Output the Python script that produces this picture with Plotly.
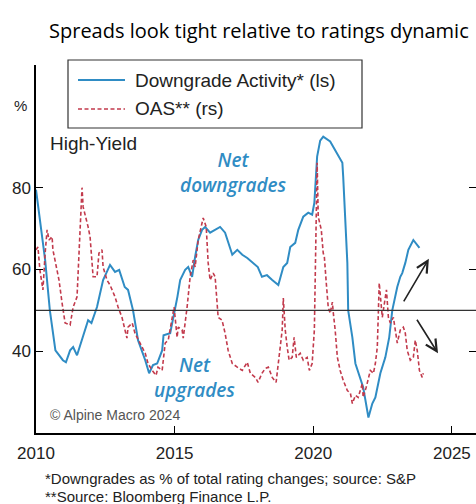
import plotly.graph_objects as go

# Downgrade activity: downgrades as % of total rating changes (left scale)
downgrade_dates = [
    2010.0, 2010.14, 2010.33, 2010.5, 2010.7, 2010.97, 2011.08, 2011.23, 2011.34, 2011.48,
    2011.66, 2011.88, 2012.0, 2012.2, 2012.42, 2012.67, 2012.85, 2013.0, 2013.2, 2013.32,
    2013.5, 2013.68, 2013.94, 2014.08, 2014.22, 2014.37, 2014.55, 2014.6, 2014.84, 2015.0,
    2015.1, 2015.2, 2015.38, 2015.49, 2015.63, 2015.74, 2015.85, 2015.99, 2016.1, 2016.28,
    2016.46, 2016.64, 2016.82, 2017.0, 2017.08, 2017.26, 2017.44, 2017.62, 2017.84, 2018.0,
    2018.15, 2018.33, 2018.52, 2018.74, 2018.92, 2019.06, 2019.17, 2019.35, 2019.46, 2019.64,
    2019.82, 2019.96, 2020.04, 2020.14, 2020.25, 2020.36, 2020.61, 2020.79, 2020.9, 2021.05,
    2021.08, 2021.15, 2021.23, 2021.26, 2021.41, 2021.52, 2021.7, 2021.8, 2021.99, 2022.13,
    2022.24, 2022.42, 2022.6, 2022.74, 2022.85, 2023.03, 2023.14, 2023.21, 2023.32, 2023.43,
    2023.61, 2023.75, 2023.83,
]
downgrade_pct = [
    79.5, 72.1, 62.3, 50.0, 40.2, 37.8, 37.3, 40.2, 41.0, 39.0,
    42.7, 47.6, 46.9, 50.8, 57.4, 61.1, 59.4, 59.9, 55.7, 55.0,
    50.0, 42.7, 37.8, 34.6, 36.6, 37.0, 40.2, 43.9, 44.4, 49.5,
    53.3, 57.4, 59.9, 60.6, 58.2, 63.1, 67.2, 69.7, 70.4, 69.0,
    69.7, 70.4, 69.0, 65.5, 63.6, 64.8, 63.6, 62.8, 61.6, 60.6,
    58.2, 58.6, 57.4, 56.2, 60.6, 61.6, 65.5, 66.5, 69.7, 72.9,
    73.9, 73.4, 76.3, 87.6, 91.5, 92.5, 91.3, 89.3, 88.1, 86.1,
    82.7, 73.9, 61.6, 50.0, 43.4, 37.0, 32.9, 31.2, 23.8, 27.2,
    28.7, 34.6, 38.5, 43.4, 50.0, 55.7, 58.2, 59.1, 61.6, 64.8,
    67.2, 66.0, 65.3,
]

# High-yield option-adjusted spread (right scale)
oas_dates = [
    2010.0, 2010.07, 2010.14, 2010.25, 2010.33, 2010.4, 2010.47, 2010.58, 2010.61, 2010.76,
    2010.83, 2010.94, 2011.05, 2011.23, 2011.34, 2011.48, 2011.55, 2011.66, 2011.7, 2011.8,
    2011.88, 2011.95, 2012.06, 2012.2, 2012.27, 2012.38, 2012.42, 2012.56, 2012.67, 2012.85,
    2012.96, 2013.1, 2013.28, 2013.32, 2013.47, 2013.57, 2013.75, 2013.94, 2014.04, 2014.19,
    2014.33, 2014.4, 2014.55, 2014.66, 2014.77, 2014.91, 2014.98, 2015.09, 2015.13, 2015.27,
    2015.31, 2015.45, 2015.56, 2015.67, 2015.74, 2015.85, 2015.99, 2016.03, 2016.14, 2016.21,
    2016.28, 2016.39, 2016.46, 2016.57, 2016.71, 2016.82, 2016.93, 2017.08, 2017.26, 2017.44,
    2017.62, 2017.73, 2017.91, 2018.01, 2018.15, 2018.27, 2018.38, 2018.52, 2018.66, 2018.74,
    2018.88, 2018.92, 2018.99, 2019.06, 2019.13, 2019.24, 2019.31, 2019.39, 2019.53, 2019.64,
    2019.78, 2019.86, 2019.96, 2020.04, 2020.11, 2020.14, 2020.18, 2020.29, 2020.36, 2020.4,
    2020.47, 2020.54, 2020.61, 2020.69, 2020.72, 2020.79, 2020.87, 2020.97, 2021.08, 2021.23,
    2021.34, 2021.41, 2021.52, 2021.62, 2021.77, 2021.8, 2021.91, 2021.99, 2022.06, 2022.17,
    2022.24, 2022.31, 2022.38, 2022.49, 2022.56, 2022.64, 2022.71, 2022.78, 2022.89, 2022.96,
    2023.03, 2023.14, 2023.25, 2023.32, 2023.39, 2023.5, 2023.61, 2023.68, 2023.75, 2023.83,
    2023.93, 2023.97,
]
oas_level = [
    64.8, 65.5, 59.9, 55.0, 64.0, 69.7, 67.2, 68.0, 64.8, 59.9,
    57.4, 51.8, 46.9, 46.4, 50.8, 53.3, 64.0, 80.0, 75.3, 72.9,
    70.4, 68.0, 58.2, 58.2, 64.0, 64.8, 60.6, 57.4, 56.2, 53.3,
    50.8, 48.3, 43.2, 45.9, 46.9, 44.4, 42.0, 39.5, 37.0, 35.3,
    34.1, 36.1, 35.3, 42.0, 42.7, 47.6, 50.8, 43.4, 45.9, 45.2,
    43.2, 50.8, 58.2, 62.3, 60.6, 67.2, 71.4, 72.6, 70.4, 61.6,
    57.4, 59.1, 58.2, 48.3, 47.6, 44.4, 40.2, 37.0, 36.1, 35.3,
    37.3, 34.6, 33.6, 32.4, 34.6, 35.8, 36.1, 33.6, 32.4, 37.0,
    45.2, 53.0, 45.2, 41.0, 37.8, 38.5, 43.4, 38.5, 39.5, 37.8,
    38.5, 35.3, 37.0, 45.2, 69.7, 86.1, 72.9, 69.7, 64.0, 63.1,
    56.7, 50.8, 49.3, 52.0, 49.6, 45.2, 38.5, 35.3, 32.9, 30.4,
    29.7, 27.2, 29.2, 28.7, 32.1, 28.7, 31.2, 33.6, 35.3, 34.6,
    37.0, 41.0, 56.7, 48.3, 51.8, 55.0, 48.3, 46.9, 48.3, 45.2,
    42.0, 45.2, 45.9, 44.4, 40.2, 37.8, 38.5, 42.7, 40.2, 35.3,
    33.6, 34.6,
]

year_ticks = [2010, 2015, 2020, 2025]
pct_ticks = [40, 60, 80]

BLUE = "#2f8cc4"
RED = "#c23a4c"
TEXT = "#222222"
RED_DASH = "4px,2.5px"

W, H = 476, 504
L, R, T, B = 36, 0, 65, 71
PW, PH = W - L - R, H - T - B


def px(x):
    return (x - L) / PW


def py(y):
    return (H - B - y) / PH


fig = go.Figure()
fig.add_trace(go.Scatter(
    x=downgrade_dates, y=downgrade_pct, mode="lines", name="Downgrade Activity* (ls)",
    line=dict(color=BLUE, width=2), showlegend=False,
))
fig.add_trace(go.Scatter(
    x=oas_dates, y=oas_level, mode="lines", name="OAS** (rs)", yaxis="y2",
    line=dict(color=RED, width=1.6, dash=RED_DASH), showlegend=False,
))

font = "Liberation Sans, Arial, sans-serif"

fig.update_layout(
    width=W, height=H,
    margin=dict(l=L, r=R, t=T, b=B),
    paper_bgcolor="white", plot_bgcolor="white",
    font=dict(family=font, color=TEXT, size=17),
    xaxis=dict(
        range=[2010, 2025.87], tickvals=year_ticks, ticks="inside", ticklen=7,
        tickcolor="black", showline=True, linecolor="black", linewidth=1.5,
        showgrid=False, zeroline=False, tickfont=dict(size=17), ticklabelstandoff=4,
    ),
    yaxis=dict(
        range=[20, 110], tickvals=pct_ticks, ticks="inside", ticklen=7,
        tickcolor="black", showline=True, linecolor="black", linewidth=1.5,
        showgrid=False, zeroline=False, tickfont=dict(size=17),
    ),
    yaxis2=dict(
        range=[20, 110], tickvals=pct_ticks, ticks="inside", ticklen=7,
        tickcolor="black", overlaying="y", side="right", showticklabels=False,
        showline=False, showgrid=False, zeroline=False,
    ),
)

# 50% divider between net upgrades and net downgrades
fig.add_shape(type="line", xref="paper", x0=0, x1=1, yref="y", y0=50, y1=50,
              line=dict(color="#333333", width=1.3))

# Legend box
fig.add_shape(type="rect", xref="paper", yref="paper",
              x0=px(68), x1=px(362), y0=py(128), y1=py(60),
              line=dict(color="#333333", width=1.2), fillcolor="white")
fig.add_shape(type="line", xref="paper", yref="paper",
              x0=px(78), x1=px(125), y0=py(80), y1=py(80),
              line=dict(color=BLUE, width=2))
fig.add_shape(type="line", xref="paper", yref="paper",
              x0=px(78), x1=px(125), y0=py(109), y1=py(109),
              line=dict(color=RED, width=1.6, dash=RED_DASH))

label_font = "Open Sans, sans-serif"
annotations = [
    dict(text="Downgrade Activity* (ls)", x=px(133), y=py(80), xanchor="left",
         font=dict(size=19)),
    dict(text="OAS** (rs)", x=px(133), y=py(108), xanchor="left", font=dict(size=19)),
    dict(text="Spreads look tight relative to ratings dynamic", x=px(47), y=py(30),
         xanchor="left", font=dict(family=label_font, size=20, color="black")),
    dict(text="%", x=px(20), y=py(105), xanchor="center", font=dict(size=15)),
    dict(text="High-Yield", x=px(48), y=py(143), xanchor="left", font=dict(size=19)),
    dict(text="<i>Net<br>downgrades</i>", x=px(233), y=py(172), xanchor="center",
         font=dict(family=label_font, size=19, color=BLUE, weight=600)),
    dict(text="<i>Net<br>upgrades</i>", x=px(194), y=py(377), xanchor="center",
         font=dict(family=label_font, size=19, color=BLUE, weight=600)),
    dict(text="© Alpine Macro 2024", x=px(48), y=py(415), xanchor="left",
         font=dict(size=14, color="#555555")),
    dict(text="*Downgrades as % of total rating changes; source: S&P", x=px(43),
         y=py(478), xanchor="left", font=dict(size=15)),
    dict(text="**Source: Bloomberg Finance L.P.", x=px(43), y=py(497),
         xanchor="left", font=dict(size=15)),
]
for a in annotations:
    a.update(xref="paper", yref="paper", showarrow=False, yanchor="middle")
    fig.add_annotation(**a)

# Direction arrows
fig.add_annotation(x=2024.17, y=62.6, xref="x", yref="y", ax=-26, ay=44,
                   showarrow=True, arrowhead=5, arrowsize=1.4, arrowwidth=1.6,
                   arrowcolor="#222222", text="")
fig.add_annotation(x=2024.5, y=39.5, xref="x", yref="y", ax=-22, ay=-35,
                   showarrow=True, arrowhead=5, arrowsize=1.4, arrowwidth=1.6,
                   arrowcolor="#222222", text="")

fig.write_html("out.html")
